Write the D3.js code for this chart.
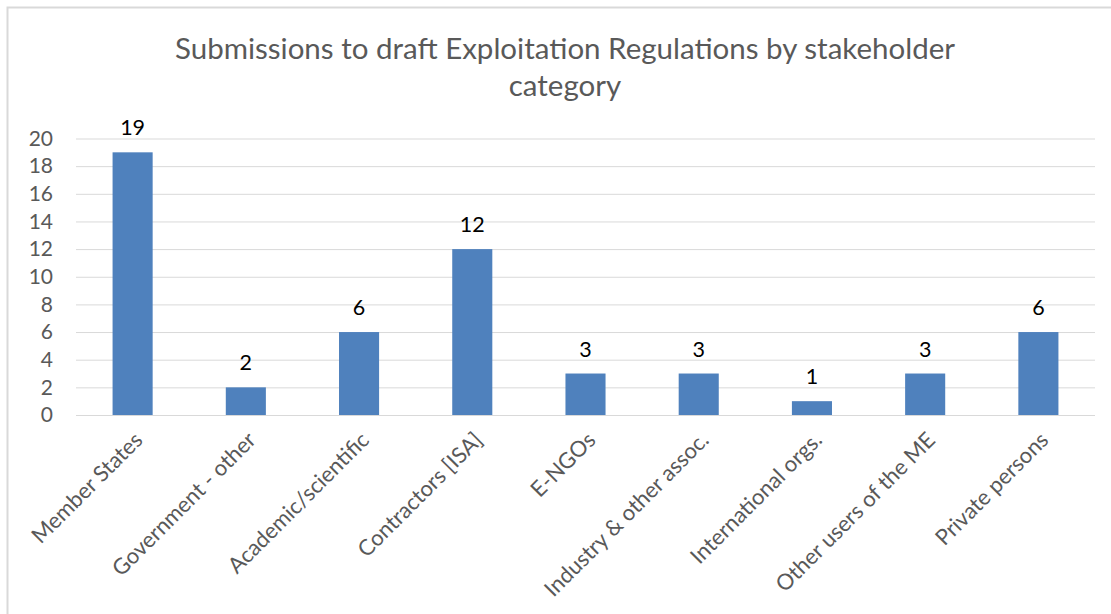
<!DOCTYPE html>
<html>
<head>
<meta charset="utf-8">
<script src="https://cdn.jsdelivr.net/npm/d3@7/dist/d3.min.js"></script>
<style>
  html, body { margin: 0; padding: 0; background: #fff; }
  svg { display: block; }
  text { font-family: Lato, "Noto Sans", sans-serif; }
</style>
</head>
<body>
<svg id="chart" width="1111" height="614"></svg>
<script>
const titleLines = ["Submissions to draft Exploitation Regulations by stakeholder", "category"];
const categories = ["Member States", "Government - other", "Academic/scientific", "Contractors [ISA]", "E-NGOs", "Industry & other assoc.", "International orgs.", "Other users of the ME", "Private persons"];
const values = [19, 2, 6, 12, 3, 3, 1, 3, 6];
const yTicks = [0, 2, 4, 6, 8, 10, 12, 14, 16, 18, 20];

const svg = d3.select("#chart");
const W = 1111, H = 614;
const m = { left: 76, right: 16, top: 138.5, bottom: 199 };
const plotW = W - m.left - m.right;
const plotH = H - m.top - m.bottom;

// frame
svg.append("rect").attr("x", 7.5).attr("y", 7.5).attr("width", W + 10).attr("height", H + 10)
  .attr("fill", "#fff").attr("stroke", "#d9d9d9").attr("stroke-width", 2);

// title
const title = svg.append("text").attr("text-anchor", "middle").attr("fill", "#595959")
  .style("font-size", "29.5px");
titleLines.forEach((t, i) => {
  title.append("tspan").attr("x", 565).attr("y", 59 + i * 37).text(t);
});

const g = svg.append("g").attr("transform", `translate(${m.left},${m.top})`);

const x = d3.scaleBand().domain(categories).range([0, plotW]).paddingInner(0.646).paddingOuter(0.323);
const y = d3.scaleLinear().domain([0, 20]).range([plotH, 0]);

// gridlines
const yAxis = d3.axisLeft(y).tickValues(yTicks).tickSize(-plotW).tickPadding(23);
const ya = g.append("g").call(yAxis);
ya.select(".domain").remove();
ya.selectAll(".tick line").attr("stroke", "#d9d9d9").attr("stroke-width", 1);
ya.selectAll(".tick text").attr("fill", "#595959").style("font-size", "21px")
  .style("font-family", "Lato, sans-serif");

// bars
g.selectAll("rect.bar").data(values).join("rect").attr("class", "bar")
  .attr("x", (d, i) => x(categories[i]))
  .attr("width", x.bandwidth())
  .attr("y", d => y(d))
  .attr("height", d => plotH - y(d))
  .attr("fill", "#4f81bd");

// data labels
g.selectAll("text.lbl").data(values).join("text").attr("class", "lbl")
  .attr("x", (d, i) => x(categories[i]) + x.bandwidth() / 2)
  .attr("y", d => y(d) - 17)
  .attr("text-anchor", "middle")
  .attr("fill", "#000")
  .style("font-size", "21.5px")
  .text(d => d);

// x axis
const xAxis = d3.axisBottom(x).tickSize(0).tickPadding(0);
const xa = g.append("g").attr("transform", `translate(0,${plotH})`).call(xAxis);
xa.select(".domain").remove();
xa.selectAll(".tick text")
  .attr("fill", "#595959")
  .style("font-size", "22px")
  .style("font-family", "Lato, sans-serif")
  .attr("text-anchor", "end")
  .attr("dy", "0.35em")
  .attr("transform", "translate(6,21) rotate(-45)")
  .attr("y", 0).attr("x", 0);
</script>
</body>
</html>
